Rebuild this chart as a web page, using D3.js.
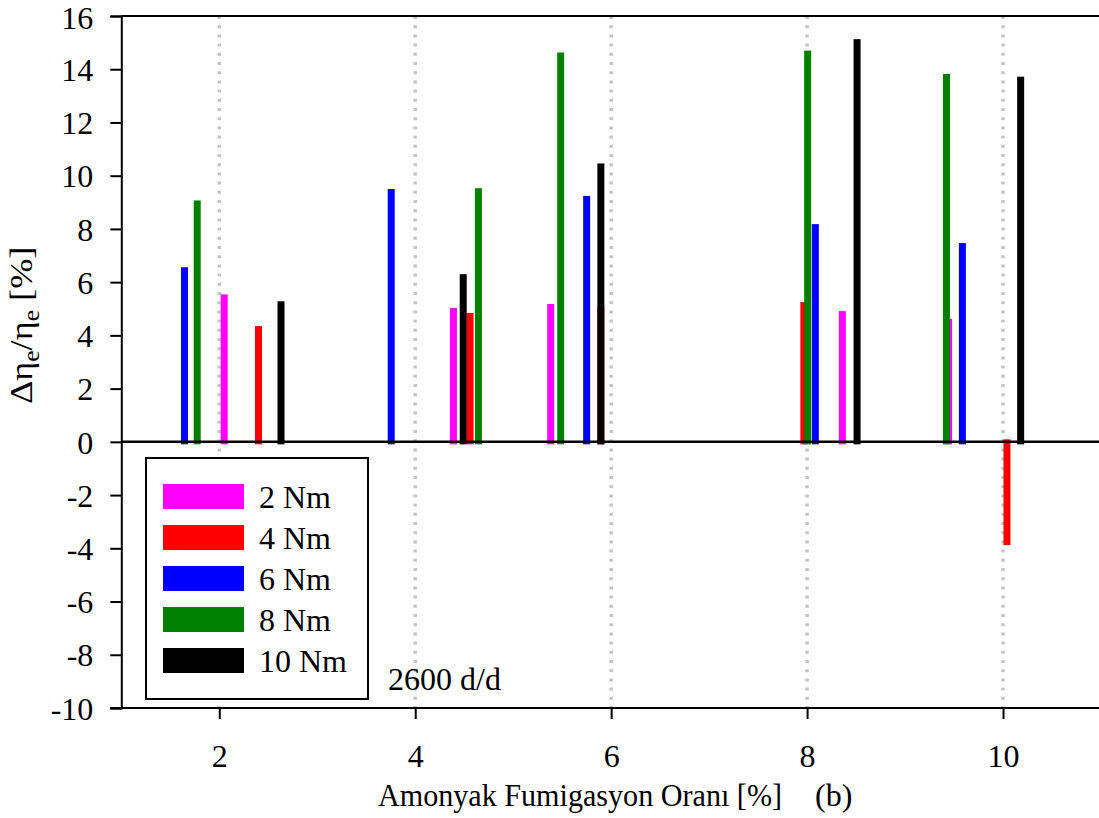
<!DOCTYPE html>
<html><head><meta charset="utf-8">
<script src="https://cdn.jsdelivr.net/npm/d3@7"></script>
<style>
html,body{margin:0;padding:0;background:#fff;}
</style></head>
<body><svg id="chart" width="1099" height="818"></svg>
<script>
// ---- data ----
const seriesNames = ["2 Nm", "4 Nm", "6 Nm", "8 Nm", "10 Nm"];
const seriesColors = ["#ff00ff", "#ff0000", "#0000ff", "#008000", "#000000"];
// x position (ammonia fumigation rate, %) of each bar, per series
const x2Nm  = [2.05, 4.39, 5.383, 8.36, 9.444];
const x4Nm  = [2.40, 4.56, 5.895, 7.967, 10.04];
const x6Nm  = [1.645, 3.755, 5.75, 8.084, 9.585];
const x8Nm  = [1.775, 4.645, 5.485, 8.006, 9.423];
const x10Nm = [2.63, 4.49, 5.895, 8.51, 10.18];
// values Δηe/ηe [%]
const v2Nm  = [5.54, 5.03, 5.18, 4.91, 4.62];
const v4Nm  = [4.35, 4.84, 5.08, 5.25, -3.88];
const v6Nm  = [6.56, 9.50, 9.24, 8.18, 7.47];
const v8Nm  = [9.07, 9.53, 14.63, 14.70, 13.82];
const v10Nm = [5.28, 6.30, 10.46, 15.13, 13.72];
const xTicks = [2, 4, 6, 8, 10];
const yTicks = [-10, -8, -6, -4, -2, 0, 2, 4, 6, 8, 10, 12, 14, 16];
const xTitleMain = "Amonyak Fumigasyon Oranı [%]";
const xTitleTag = "(b)";
const annotation = "2600 d/d";

const seriesX = [x2Nm, x4Nm, x6Nm, x8Nm, x10Nm];
const seriesV = [v2Nm, v4Nm, v6Nm, v8Nm, v10Nm];

// ---- layout ----
const FONT = '"Liberation Serif", "Times New Roman", Times, serif';
const svg = d3.select("#chart");
const x = d3.scaleLinear().domain([1, 11]).range([121.3, 1101]);
const y = d3.scaleLinear().domain([-10, 16]).range([708, 16]);
const fs = 32;

// vertical dotted grid lines
svg.append("g").selectAll("line").data(xTicks).join("line")
  .attr("x1", d => x(d)).attr("x2", d => x(d))
  .attr("y1", y(16)).attr("y2", y(-10))
  .attr("stroke", "#c4c4c4").attr("stroke-width", 3.5)
  .attr("stroke-dasharray", "3 6.2");

// bars
const barW = 7;
const gb = svg.append("g");
seriesNames.forEach((name, i) => {
  const data = seriesX[i].map((xv, j) => ({x: xv, v: seriesV[i][j]}));
  gb.append("g").selectAll("rect").data(data).join("rect")
    .attr("x", d => x(d.x) - barW / 2)
    .attr("width", barW)
    .attr("y", d => d.v >= 0 ? y(d.v) : y(0) - 2.5)
    .attr("height", d => Math.abs(y(d.v) - y(0)) + 2.5)
    .attr("fill", seriesColors[i]);
});

// zero line
svg.append("line").attr("x1", x(1)).attr("x2", 1099)
  .attr("y1", y(0)).attr("y2", y(0))
  .attr("stroke", "#000").attr("stroke-width", 2.5);

// top frame line
svg.append("line").attr("x1", x(1)).attr("x2", 1099)
  .attr("y1", y(16)).attr("y2", y(16))
  .attr("stroke", "#000").attr("stroke-width", 2);

// axes
const fmt = d => String(d);
const yAxis = d3.axisLeft(y).tickValues(yTicks).tickSize(11).tickPadding(17).tickFormat(fmt);
const gy = svg.append("g").attr("transform", `translate(${x(1)},0)`).call(yAxis);
const xAxis = d3.axisBottom(x).tickValues(xTicks).tickSize(11).tickPadding(25).tickFormat(fmt);
const gx = svg.append("g").attr("transform", `translate(0,${y(-10)})`).call(xAxis);
[gy, gx].forEach(g => {
  g.attr("font-family", null).attr("font-size", null);
  g.select(".domain").attr("stroke", "#000").attr("stroke-width", 2);
  g.selectAll(".tick line").attr("stroke", "#000").attr("stroke-width", 2);
  g.selectAll(".tick text").style("font-family", FONT).style("font-size", fs + "px").attr("fill", "#000");
});
gx.select(".domain").attr("d", `M110,0H1099`);
gy.selectAll(".tick text").attr("dy", d => d === 16 ? "0.4em" : "0.35em");

// x axis title
svg.append("text").attr("x", 378).attr("y", 806)
  .attr("textLength", 404).attr("lengthAdjust", "spacingAndGlyphs")
  .style("font-family", FONT).style("font-size", fs + "px").text(xTitleMain);
svg.append("text").attr("x", 815).attr("y", 806)
  .style("font-family", FONT).style("font-size", fs + "px").text(xTitleTag);

// y axis title (stretched along its direction to match the reference length)
const ytg = svg.append("g");
const yt = ytg.append("text").attr("x", 0).attr("y", 0)
  .style("font-family", FONT).style("font-size", fs + "px");
yt.append("tspan").text("Δη");
yt.append("tspan").style("font-size", (fs * 0.7) + "px").attr("dy", 7).text("e");
yt.append("tspan").attr("dy", -7).text("/η");
yt.append("tspan").style("font-size", (fs * 0.7) + "px").attr("dy", 7).text("e");
yt.append("tspan").attr("dy", -7).style("white-space", "pre").text(" [%]");
const natural = yt.node().getComputedTextLength();
const stretch = 157.5 / natural;
ytg.attr("transform", `translate(32,404) rotate(-90) scale(${stretch},1)`);

// annotation
svg.append("text").attr("x", 388).attr("y", 690)
  .style("font-family", FONT).style("font-size", fs + "px").text(annotation);

// legend
const lg = svg.append("g");
lg.append("rect").attr("x", 146).attr("y", 458).attr("width", 222).attr("height", 241)
  .attr("fill", "#fff").attr("stroke", "#000").attr("stroke-width", 2);
seriesNames.forEach((name, i) => {
  const top = 484 + i * 41;
  lg.append("rect").attr("x", 163).attr("y", top).attr("width", 81).attr("height", 25)
    .attr("fill", seriesColors[i]);
  lg.append("text").attr("x", 259).attr("y", top + 23.5)
    .style("font-family", FONT).style("font-size", fs + "px").text(name);
});
</script></body></html>
